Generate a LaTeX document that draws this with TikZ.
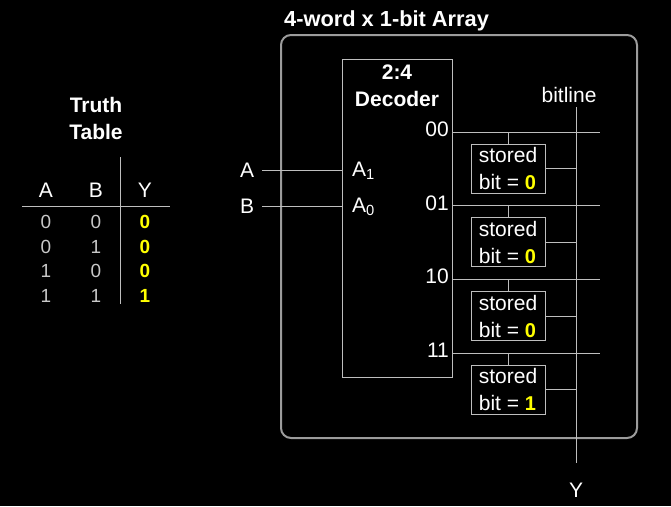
\documentclass[tikz,border=0pt]{standalone}
\usepackage{fontspec}
\setmainfont{Liberation Sans}
\newfontfamily\digitfont{Liberation Sans}
\usetikzlibrary{positioning}

\definecolor{wirecol}{HTML}{BEBEBE}
\definecolor{framecol}{HTML}{9C9C9C}
\definecolor{bitcol}{HTML}{FFFF00}
\definecolor{ttcol}{HTML}{C8C8C8}

\tikzset{
  lbl/.style={text=white, inner sep=0pt, font=\fontsize{21}{26}\selectfont},
  hd/.style={lbl, align=center, font=\fontsize{21}{27}\selectfont\bfseries},
  wire/.style={draw=wirecol, line width=0.9pt},
  cellbox/.style={draw=wirecol, line width=0.9pt, minimum width=74pt, minimum height=49pt,
    inner sep=0pt, text=white, align=left, font=\fontsize{21}{27}\selectfont},
  ttbit/.style={text=ttcol, inner sep=0pt, font=\fontsize{19}{22}\digitfont},
  ybit/.style={text=bitcol, inner sep=0pt, font=\fontsize{19}{22}\digitfont\bfseries},
}
\newcommand{\bitval}[1]{{\fontsize{20}{22}\digitfont\bfseries\color{bitcol}#1}}

\begin{document}
\begin{tikzpicture}[x=1pt,y=-1pt]
  \fill[black] (0,0) rectangle (671,506);
  \useasboundingbox (0,0) rectangle (671,506);

  % truth table
  \node[hd] (tthead) at (96,118) {Truth\\Table};
  \node[lbl] (colA) at (46,190) {A};
  \node[lbl] (colB) at (96,190) {B};
  \node[lbl] (colY) at (145,190) {Y};
  \draw[wire] (22,206) -- (170,206);
  \draw[wire] (120,157) -- (120,304);
  \foreach \a/\b/\y [count=\i] in {0/0/0,0/1/0,1/0/0,1/1/1} {
    \node[ttbit] (ra\i) at (46,{222+(\i-1)*24.5}) {\a};
    \node[ttbit] (rb\i) at (96,{222+(\i-1)*24.5}) {\b};
    \node[ybit] (ry\i) at (145,{222+(\i-1)*24.5}) {\y};
  }

  % array frame
  \draw[framecol, line width=2pt, rounded corners=10pt] (281,35) rectangle (637,438);
  \node[hd, anchor=base west, font=\fontsize{21.8}{27}\selectfont\bfseries] (title) at (284,26) {4-word x 1-bit Array};

  % decoder
  \node[draw=wirecol, line width=0.9pt, minimum width=110pt, minimum height=318pt,
    inner sep=0pt, anchor=north west] (dec) at (342,59) {};
  \node[hd] (declbl) at (397,86) {2:4\\Decoder};
  \node[lbl, anchor=west] (selA) at (352,171) {A\textsubscript{1}};
  \node[lbl, anchor=west] (selB) at (352,207) {A\textsubscript{0}};

  % inputs
  \node[lbl] (inA) at (247,170) {A};
  \node[lbl] (inB) at (247,206) {B};
  \draw[wire] ([xshift=8pt]inA.east) -- (inA.east -| dec.west);
  \draw[wire] ([xshift=8pt]inB.east) -- (inB.east -| dec.west);

  % bitline
  \coordinate (bltop) at (576,107);
  \coordinate (blbot) at (576,463);
  \draw[wire] (bltop) -- (blbot);
  \node[lbl] (bllbl) at (569,95) {bitline};
  \node[lbl] (outY) at (576,490) {Y};

  % word lines and stored bits
  \foreach \w/\v [count=\i] in {00/0,01/0,10/0,11/1} {
    \coordinate (wl\i) at (600,{132+(\i-1)*73.8});
    \node[lbl, anchor=east] (addr\i) at (449,{129+(\i-1)*73.8}) {\w};
    \draw[wire] (dec.east |- wl\i) -- (wl\i);
    \node[cellbox] (cell\i) at (508,{168.5+(\i-1)*73.8}) {stored\\bit = \bitval{\v}};
    \draw[wire] (cell\i.north) -- (cell\i.north |- wl\i);
    \draw[wire] (cell\i.east) -- (cell\i.east -| bltop);
  }
\end{tikzpicture}
\end{document}
